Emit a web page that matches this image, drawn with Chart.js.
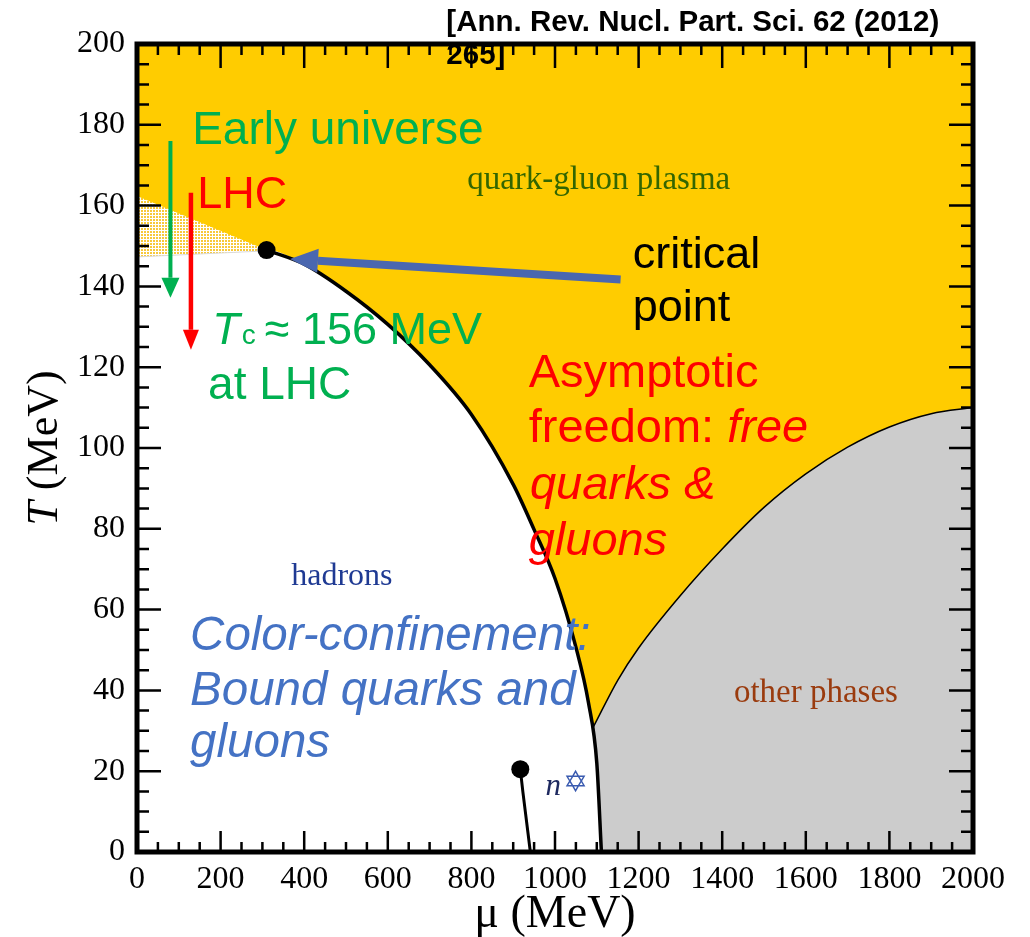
<!DOCTYPE html>
<html>
<head>
<meta charset="utf-8">
<script src="https://cdn.jsdelivr.net/npm/chart.js@4.4.0/dist/chart.umd.min.js"></script>
<style>
body { margin: 0; background: #fff; }
canvas { display: block; }
</style>
</head>
<body>
<canvas id="GraficoFases" width="1030" height="937"></canvas>
<script>
// QCD phase diagram (mu, T in MeV)
var muTicks = [0, 200, 400, 600, 800, 1000, 1200, 1400, 1600, 1800, 2000];
var tTicks = [0, 20, 40, 60, 80, 100, 120, 140, 160, 180, 200];

// hadron / QGP boundary, from critical point down to T = 0
var muBoundary = [310, 400, 500, 600, 700, 800, 900, 950, 1000, 1050, 1080, 1100, 1111];
var tBoundary = [149, 145.5, 138.8, 130.6, 120.6, 108.3, 91, 79.8, 67.7, 50.7, 37, 22, 0];

// upper edge of "other phases"
var muOther = [1092, 1150, 1200, 1300, 1400, 1500, 1600, 1700, 1800, 1900, 2000];
var tOther = [31, 42.5, 50.5, 63.5, 75, 85.3, 93.6, 100.2, 105.2, 108.5, 110];

// crossover band (dotted)
var muCrossover = [0, 310];
var tCrossoverTop = [162.4, 149];
var tCrossoverBottom = [147.3, 148.8];

// nuclear liquid-gas line
var muNuclear = [917, 923, 929, 935, 941];
var tNuclear = [20.5, 15, 10, 5, 0];

var muCritical = [310];
var tCritical = [149];

function pts(xs, ys) {
    return xs.map(function (x, i) { return { x: x, y: ys[i] }; });
}

var tile = document.createElement('canvas');
tile.width = 3; tile.height = 3;
var tc = tile.getContext('2d');
tc.fillStyle = '#ffffff'; tc.fillRect(0, 0, 3, 3);
tc.fillStyle = '#f8c93a'; tc.fillRect(0, 0, 2, 2);
var dotted = tc.createPattern(tile, 'repeat');

var serif = '"Liberation Serif", "Times New Roman", serif';
var sans = '"Liberation Sans", Arial, sans-serif';

var annotations = {
    id: 'annotations',
    afterDraw: function (chart) {
        var ctx = chart.ctx, a = chart.chartArea;
        var sx = chart.scales.x, sy = chart.scales.y;
        function X(v) { return sx.getPixelForValue(v); }
        function Y(v) { return sy.getPixelForValue(v); }

        ctx.save();
        // inward ticks on all four sides
        ctx.strokeStyle = '#000';
        ctx.lineWidth = 2.5;
        ctx.beginPath();
        for (var m = 0; m <= 2000; m += 50) {
            var big = m % 200 === 0;
            ctx.moveTo(X(m), a.bottom); ctx.lineTo(X(m), a.bottom - (big ? 21 : 10));
            ctx.moveTo(X(m), a.top); ctx.lineTo(X(m), a.top + (big ? 24 : 11));
        }
        for (var t = 0; t <= 200; t += 5) {
            var bigT = t % 20 === 0;
            ctx.moveTo(a.left, Y(t)); ctx.lineTo(a.left + (bigT ? 24 : 12), Y(t));
            ctx.moveTo(a.right, Y(t)); ctx.lineTo(a.right - (bigT ? 24 : 12), Y(t));
        }
        ctx.stroke();
        ctx.lineWidth = 5;
        ctx.strokeRect(a.left, a.top, a.right - a.left, a.bottom - a.top);

        function arrow(x0, y0, x1, y1, color, w, hl, hw) {
            var px0 = X(x0), py0 = Y(y0), px1 = X(x1), py1 = Y(y1);
            var ang = Math.atan2(py1 - py0, px1 - px0);
            var bx = px1 - hl * Math.cos(ang), by = py1 - hl * Math.sin(ang);
            ctx.strokeStyle = color; ctx.fillStyle = color; ctx.lineWidth = w;
            ctx.lineCap = 'butt';
            ctx.beginPath(); ctx.moveTo(px0, py0); ctx.lineTo(bx, by); ctx.stroke();
            ctx.beginPath();
            ctx.moveTo(px1, py1);
            ctx.lineTo(bx + hw * Math.sin(ang), by - hw * Math.cos(ang));
            ctx.lineTo(bx - hw * Math.sin(ang), by + hw * Math.cos(ang));
            ctx.closePath(); ctx.fill();
        }
        arrow(80, 176, 80, 137.2, '#00B050', 4, 20, 9);
        arrow(129, 163.2, 129, 124.3, '#FF0000', 4.5, 20, 8);
        arrow(1157, 141.7, 366, 146.8, '#4A67B0', 8, 28, 12);

        function txt(s, mu, t, font, color) {
            ctx.font = font; ctx.fillStyle = color;
            ctx.textAlign = 'left'; ctx.textBaseline = 'alphabetic';
            ctx.fillText(s, X(mu), Y(t));
            return X(mu) + ctx.measureText(s).width;
        }
        function txtPx(s, px, py, font, color) {
            ctx.font = font; ctx.fillStyle = color;
            ctx.fillText(s, px, py);
            return px + ctx.measureText(s).width;
        }

        txt('[Ann. Rev. Nucl. Part. Sci. 62 (2012)', 740, 203.2, 'bold 29.5px ' + sans, '#000');
        txt('265]', 740, 195.1, 'bold 29.5px ' + sans, '#000');

        txt('Early universe', 132, 175.3, '46px ' + sans, '#00B050');
        txt('LHC', 144, 159.5, '45px ' + sans, '#FF0000');

        var e = txt('T', 180, 125.8, 'italic 45px ' + sans, '#00B050');
        e = txtPx('c', e + 2, Y(125.8), '28px ' + sans, '#00B050');
        txtPx('\u2248 156 MeV', e + 9, Y(125.8), '45px ' + sans, '#00B050');
        txt('at LHC', 170, 112.2, '46px ' + sans, '#00B050');

        txt('quark-gluon plasma', 790, 164.2, '33px ' + serif, '#336600');
        txt('critical', 1186, 144.6, '45px ' + sans, '#000');
        txt('point', 1186, 131.5, '45px ' + sans, '#000');

        txt('Asymptotic', 937, 115.2, '47px ' + sans, '#FF0000');
        var f = txt('freedom: ', 937, 101.4, '47px ' + sans, '#FF0000');
        txtPx('free', f, Y(101.4), 'italic 47px ' + sans, '#FF0000');
        txt('quarks &', 940, 87.5, 'italic 47px ' + sans, '#FF0000');
        txt('gluons', 937, 73.4, 'italic 47px ' + sans, '#FF0000');

        txt('hadrons', 369, 66, '32px ' + serif, '#1F3A93');
        txt('Color-confinement:', 127, 49.9, 'italic 47.5px ' + sans, '#4472C4');
        txt('Bound quarks and', 127, 36.3, 'italic 47.5px ' + sans, '#4472C4');
        txt('gluons', 127, 23.5, 'italic 47.5px ' + sans, '#4472C4');

        txt('other phases', 1428, 37.1, '33px ' + serif, '#9A3B0E');
        var n = txt('n', 977, 14.1, 'italic 31px ' + serif, '#1F2A60');
        txtPx('\u2721', n + 2, Y(14.8), '30px "DejaVu Sans"', '#3A5BB0');

        // axis titles
        ctx.font = '46px ' + serif; ctx.fillStyle = '#000';
        ctx.textAlign = 'center';
        ctx.fillText('\u03bc (MeV)', (a.left + a.right) / 2, 927);

        ctx.translate(57, (a.top + a.bottom) / 2);
        ctx.rotate(-Math.PI / 2);
        ctx.textAlign = 'left';
        ctx.font = 'italic 44px ' + serif;
        var wT = ctx.measureText('T').width;
        ctx.font = '44px ' + serif;
        var wR = ctx.measureText(' (MeV)').width;
        var x0 = -(wT + wR) / 2;
        ctx.font = 'italic 44px ' + serif;
        ctx.fillText('T', x0, 0);
        ctx.font = '44px ' + serif;
        ctx.fillText(' (MeV)', x0 + wT, 0);
        ctx.restore();
    }
};

new Chart(document.getElementById('GraficoFases'), {
    type: 'line',
    data: {
        datasets: [{
            label: 'quark-gluon plasma',
            data: pts([0, 2000], [200, 200]),
            borderWidth: 0,
            backgroundColor: '#FFCC00',
            fill: 'origin',
            order: 10
        }, {
            label: 'other phases',
            data: pts(muOther, tOther),
            borderColor: '#000',
            borderWidth: 1.5,
            backgroundColor: '#CCCCCC',
            cubicInterpolationMode: 'monotone',
            fill: 'origin',
            order: 9
        }, {
            label: 'hadrons',
            data: [{ x: muCrossover[0], y: tCrossoverBottom[0] }].concat(pts(muBoundary, tBoundary)),
            borderWidth: 0,
            backgroundColor: '#FFFFFF',
            cubicInterpolationMode: 'monotone',
            fill: 'origin',
            order: 8
        }, {
            label: 'crossover',
            data: pts(muCrossover, tCrossoverTop),
            borderWidth: 0,
            backgroundColor: dotted,
            fill: { target: 4 },
            order: 7
        }, {
            label: 'crossover bottom',
            data: pts(muCrossover, tCrossoverBottom),
            borderColor: '#DADADA',
            borderWidth: 1,
            fill: false,
            order: 6
        }, {
            label: 'boundary',
            data: pts(muBoundary, tBoundary),
            borderColor: '#000',
            borderWidth: 3.5,
            cubicInterpolationMode: 'monotone',
            fill: false,
            order: 5
        }, {
            label: 'nuclear',
            data: pts(muNuclear, tNuclear),
            borderColor: '#000',
            borderWidth: 3,
            pointRadius: [9, 0, 0, 0, 0],
            pointBackgroundColor: '#000',
            pointBorderWidth: 0,
            cubicInterpolationMode: 'monotone',
            fill: false,
            order: 4
        }, {
            label: 'critical point',
            data: pts(muCritical, tCritical),
            showLine: false,
            pointRadius: 9,
            pointBackgroundColor: '#000',
            pointBorderWidth: 0,
            order: 3
        }]
    },
    options: {
        responsive: false,
        animation: false,
        layout: { padding: { left: 0, top: 44, right: 57, bottom: 0 } },
        elements: { point: { radius: 0, hoverRadius: 0 } },
        plugins: {
            legend: { display: false },
            tooltip: { enabled: false }
        },
        scales: {
            x: {
                type: 'linear',
                min: 0,
                max: 2000,
                afterBuildTicks: function (s) { s.ticks = muTicks.map(function (v) { return { value: v }; }); },
                afterFit: function (s) { s.height = 85; },
                grid: { display: false, drawTicks: false },
                border: { display: false },
                ticks: {
                    color: '#000', padding: 8, maxRotation: 0, autoSkip: false,
                    font: { family: serif, size: 32 },
                    callback: function (v) { return String(v); }
                }
            },
            y: {
                type: 'linear',
                min: 0,
                max: 200,
                afterBuildTicks: function (s) { s.ticks = tTicks.map(function (v) { return { value: v }; }); },
                afterFit: function (s) { s.width = 137; },
                grid: { display: false, drawTicks: false },
                border: { display: false },
                ticks: {
                    color: '#000', padding: 12, autoSkip: false,
                    font: { family: serif, size: 32 },
                    callback: function (v) { return String(v); }
                }
            }
        }
    },
    plugins: [annotations]
});
</script>
</body>
</html>
